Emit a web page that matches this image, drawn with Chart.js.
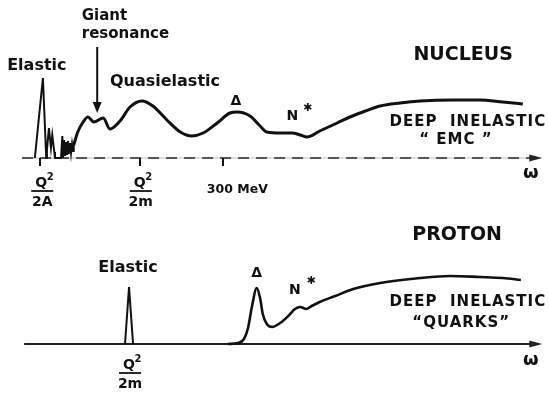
<!DOCTYPE html>
<html>
<head>
<meta charset="utf-8">
<title>Nucleus and proton response vs energy transfer</title>
<script src="https://cdn.jsdelivr.net/npm/chart.js@4.4.0/dist/chart.umd.min.js"></script>
<style>
  html, body { margin: 0; padding: 0; background: #fff; }
  #wrap { width: 549px; height: 393px; }
</style>
</head>
<body>
<div id="wrap"><canvas id="spectrum"></canvas></div>
<script>
// energy transfer ω in MeV-like units, response in arbitrary units (0 = baseline)

// nucleus: elastic peak and low-lying levels
const nucleusPeakX = [19, 31, 36, 37, 40, 43, 45, 48, 49, 58, 60, 61, 62.5, 64, 65.5, 67, 68.5, 70, 71.5, 73, 74.5, 76, 77];
const nucleusPeakY = [0, 0.80, 0, 0.08, 0.30, 0.10, 0.23, 0.06, 0, 0, 0.22, 0, 0.18, 0.02, 0.16, 0.03, 0.17, 0.04, 0.15, 0.05, 0.14, 0.07, 0.13];

// nucleus: giant resonance, quasielastic, Δ, N*, deep inelastic
const nucleusX = [77, 83, 91, 98, 107, 121, 131, 146, 161, 179, 195, 216, 236, 253, 270, 291, 310, 321, 340, 355,
                  365, 385, 403, 415, 425, 444, 470, 489, 512, 534, 564, 594, 643, 683, 717, 747];
const nucleusY = [0.13, 0.26, 0.36, 0.41, 0.36, 0.40, 0.29, 0.37, 0.51, 0.57, 0.52, 0.38, 0.26, 0.22, 0.25, 0.35, 0.45, 0.46, 0.42, 0.32,
                  0.26, 0.25, 0.25, 0.23, 0.21, 0.27, 0.35, 0.41, 0.47, 0.52, 0.55, 0.57, 0.58, 0.58, 0.56, 0.54];

// proton: elastic line
const protonPeakX = [153.5, 159.5, 165.5];
const protonPeakY = [0, 0.57, 0];

// proton: Δ, N*, deep inelastic
const protonX = [307, 322, 331, 337, 343, 350, 355, 359, 365, 373, 385, 397, 407, 415, 424, 432, 444, 467, 494, 534,
                 594, 638, 683, 717, 744];
const protonY = [0, 0.01, 0.05, 0.16, 0.38, 0.56, 0.46, 0.30, 0.20, 0.17, 0.21, 0.28, 0.35, 0.37, 0.35, 0.38, 0.42, 0.48, 0.55, 0.61,
                 0.66, 0.68, 0.67, 0.66, 0.64];

// ω axis
const axisStart = 0;
const axisEnd = 776;
const nucleusTicks = [27, 176, 300];

// text on the nucleus panel
const nucleusLabels = [
  { text: 'Elastic', x: 22, y: 0.92, size: 16 },
  { text: 'Giant', x: 89, y: 1.42, size: 15, align: 'left' },
  { text: 'resonance', x: 89, y: 1.24, size: 15, align: 'left' },
  { text: 'Quasielastic', x: 131, y: 0.76, size: 16, align: 'left' },
  { text: 'Δ', x: 319, y: 0.57, size: 14 },
  { text: 'N', x: 403, y: 0.42, size: 14 },
  { text: '✱', x: 426, y: 0.50, size: 11 },
  { text: 'NUCLEUS', x: 658, y: 1.03, size: 19 },
  { text: 'DEEP  INELASTIC', x: 665, y: 0.36, size: 15, spacing: 1 },
  { text: '“ EMC ”', x: 647, y: 0.18, size: 15, spacing: 1 },
  { text: '300 MeV', x: 321, y: -0.32, size: 12.5 },
  { text: 'ω', x: 759, y: -0.15, size: 18 }
];
const nucleusFractions = [
  { num: 'Q', den: '2A', x: 30, y: -0.24 },
  { num: 'Q', den: '2m', x: 177, y: -0.24 }
];
const giantArrow = { x: 112, from: 1.11, to: 0.45 };

// text on the proton panel
const protonLabels = [
  { text: 'Elastic', x: 158, y: 0.76, size: 16 },
  { text: 'Δ', x: 350, y: 0.71, size: 14 },
  { text: 'N', x: 407, y: 0.54, size: 14 },
  { text: '✱', x: 431, y: 0.63, size: 11 },
  { text: 'PROTON', x: 649, y: 1.09, size: 19 },
  { text: 'DEEP  INELASTIC', x: 665, y: 0.42, size: 15, spacing: 1 },
  { text: '“QUARKS”', x: 655, y: 0.21, size: 15, spacing: 1 },
  { text: 'ω', x: 759, y: -0.16, size: 18 }
];
const protonFractions = [
  { num: 'Q', den: '2m', x: 161, y: -0.20 }
];

const FONT = '"DejaVu Sans", sans-serif';
const INK = '#111';

function toPoints(xs, ys) {
  return xs.map((x, i) => ({ x: x, y: ys[i] }));
}

function drawText(ctx, text, px, py, size, align, spacing) {
  ctx.font = 'bold ' + size + 'px ' + FONT;
  ctx.letterSpacing = (spacing || 0) + 'px';
  ctx.textAlign = align || 'center';
  ctx.textBaseline = 'middle';
  ctx.fillStyle = INK;
  ctx.fillText(text, px, py);
  ctx.letterSpacing = '0px';
}

function drawAxis(ctx, x0, x1, y, dashed) {
  if (dashed) {
    // faint broken rule under darker dashes
    ctx.strokeStyle = '#bdbdbd';
    ctx.lineWidth = 1;
    ctx.beginPath(); ctx.moveTo(x0, y); ctx.lineTo(x1 - 8, y); ctx.stroke();
    ctx.strokeStyle = '#555';
    ctx.lineWidth = 2;
    ctx.setLineDash([11, 7]);
  } else {
    ctx.strokeStyle = '#222';
    ctx.lineWidth = 2;
    ctx.setLineDash([]);
  }
  ctx.beginPath(); ctx.moveTo(x0, y); ctx.lineTo(x1 - 8, y); ctx.stroke();
  ctx.setLineDash([]);
  ctx.fillStyle = '#222';
  ctx.beginPath();
  ctx.moveTo(x1, y);
  ctx.lineTo(x1 - 13, y - 3.5);
  ctx.lineTo(x1 - 13, y + 3.5);
  ctx.closePath();
  ctx.fill();
}

// Q² over a bar over the denominator
function drawFraction(ctx, f, xs, ys) {
  const px = xs.getPixelForValue(f.x);
  const py = ys.getPixelForValue(f.y);
  drawText(ctx, f.num, px - 1, py + 1, 14);
  drawText(ctx, '2', px + 8, py - 5, 10);
  ctx.strokeStyle = INK;
  ctx.lineWidth = 1.8;
  ctx.beginPath(); ctx.moveTo(px - 11, py + 9); ctx.lineTo(px + 11, py + 9); ctx.stroke();
  drawText(ctx, f.den, px, py + 20, 14);
}

const schematic = {
  id: 'schematic',
  beforeDatasetsDraw(chart) {
    const { ctx, scales: { x, yN, yP } } = chart;
    ctx.save();
    const x0 = x.getPixelForValue(axisStart);
    const x1 = x.getPixelForValue(axisEnd);
    const baseN = yN.getPixelForValue(0);
    const baseP = yP.getPixelForValue(0);
    drawAxis(ctx, x0, x1, baseN, true);
    drawAxis(ctx, x0 + 2, x1, baseP, false);

    ctx.strokeStyle = INK;
    ctx.lineWidth = 2;
    nucleusTicks.forEach(v => {
      const px = Math.round(x.getPixelForValue(v));
      ctx.beginPath(); ctx.moveTo(px, baseN); ctx.lineTo(px, baseN + 8); ctx.stroke();
    });
    ctx.restore();
  },
  afterDatasetsDraw(chart) {
    const { ctx, scales: { x, yN, yP } } = chart;
    ctx.save();
    nucleusLabels.forEach(l => drawText(ctx, l.text, x.getPixelForValue(l.x), yN.getPixelForValue(l.y), l.size, l.align, l.spacing));
    protonLabels.forEach(l => drawText(ctx, l.text, x.getPixelForValue(l.x), yP.getPixelForValue(l.y), l.size, l.align, l.spacing));
    nucleusFractions.forEach(f => drawFraction(ctx, f, x, yN));
    protonFractions.forEach(f => drawFraction(ctx, f, x, yP));

    // arrow pointing at the giant resonance
    const ax = x.getPixelForValue(giantArrow.x);
    const ay0 = yN.getPixelForValue(giantArrow.from);
    const ay1 = yN.getPixelForValue(giantArrow.to);
    ctx.strokeStyle = INK;
    ctx.lineWidth = 2;
    ctx.beginPath(); ctx.moveTo(ax, ay0); ctx.lineTo(ax, ay1 - 8); ctx.stroke();
    ctx.fillStyle = INK;
    ctx.beginPath();
    ctx.moveTo(ax, ay1);
    ctx.lineTo(ax - 4.5, ay1 - 11);
    ctx.lineTo(ax + 4.5, ay1 - 11);
    ctx.closePath();
    ctx.fill();
    ctx.restore();
  }
};

const lineBase = {
  showLine: true,
  pointRadius: 0,
  borderColor: INK,
  fill: false
};

new Chart(document.getElementById('spectrum'), {
  type: 'scatter',
  data: {
    datasets: [
      Object.assign({}, lineBase, { label: 'Nucleus elastic', data: toPoints(nucleusPeakX, nucleusPeakY), yAxisID: 'yN', borderWidth: 2, tension: 0 }),
      Object.assign({}, lineBase, { label: 'Nucleus', data: toPoints(nucleusX, nucleusY), yAxisID: 'yN', borderWidth: 3, cubicInterpolationMode: 'monotone' }),
      Object.assign({}, lineBase, { label: 'Proton elastic', data: toPoints(protonPeakX, protonPeakY), yAxisID: 'yP', borderWidth: 2, tension: 0 }),
      Object.assign({}, lineBase, { label: 'Proton', data: toPoints(protonX, protonY), yAxisID: 'yP', borderWidth: 2.6, cubicInterpolationMode: 'monotone' })
    ]
  },
  options: {
    responsive: true,
    maintainAspectRatio: false,
    animation: false,
    devicePixelRatio: 1,
    layout: { padding: 0 },
    plugins: {
      legend: { display: false },
      tooltip: { enabled: false }
    },
    scales: {
      x: { type: 'linear', min: -33, max: 786, display: false },
      yN: { type: 'linear', min: -2.35, max: 1.58, display: false },
      yP: { type: 'linear', min: -0.49, max: 3.44, display: false }
    }
  },
  plugins: [schematic]
});
</script>
</body>
</html>
